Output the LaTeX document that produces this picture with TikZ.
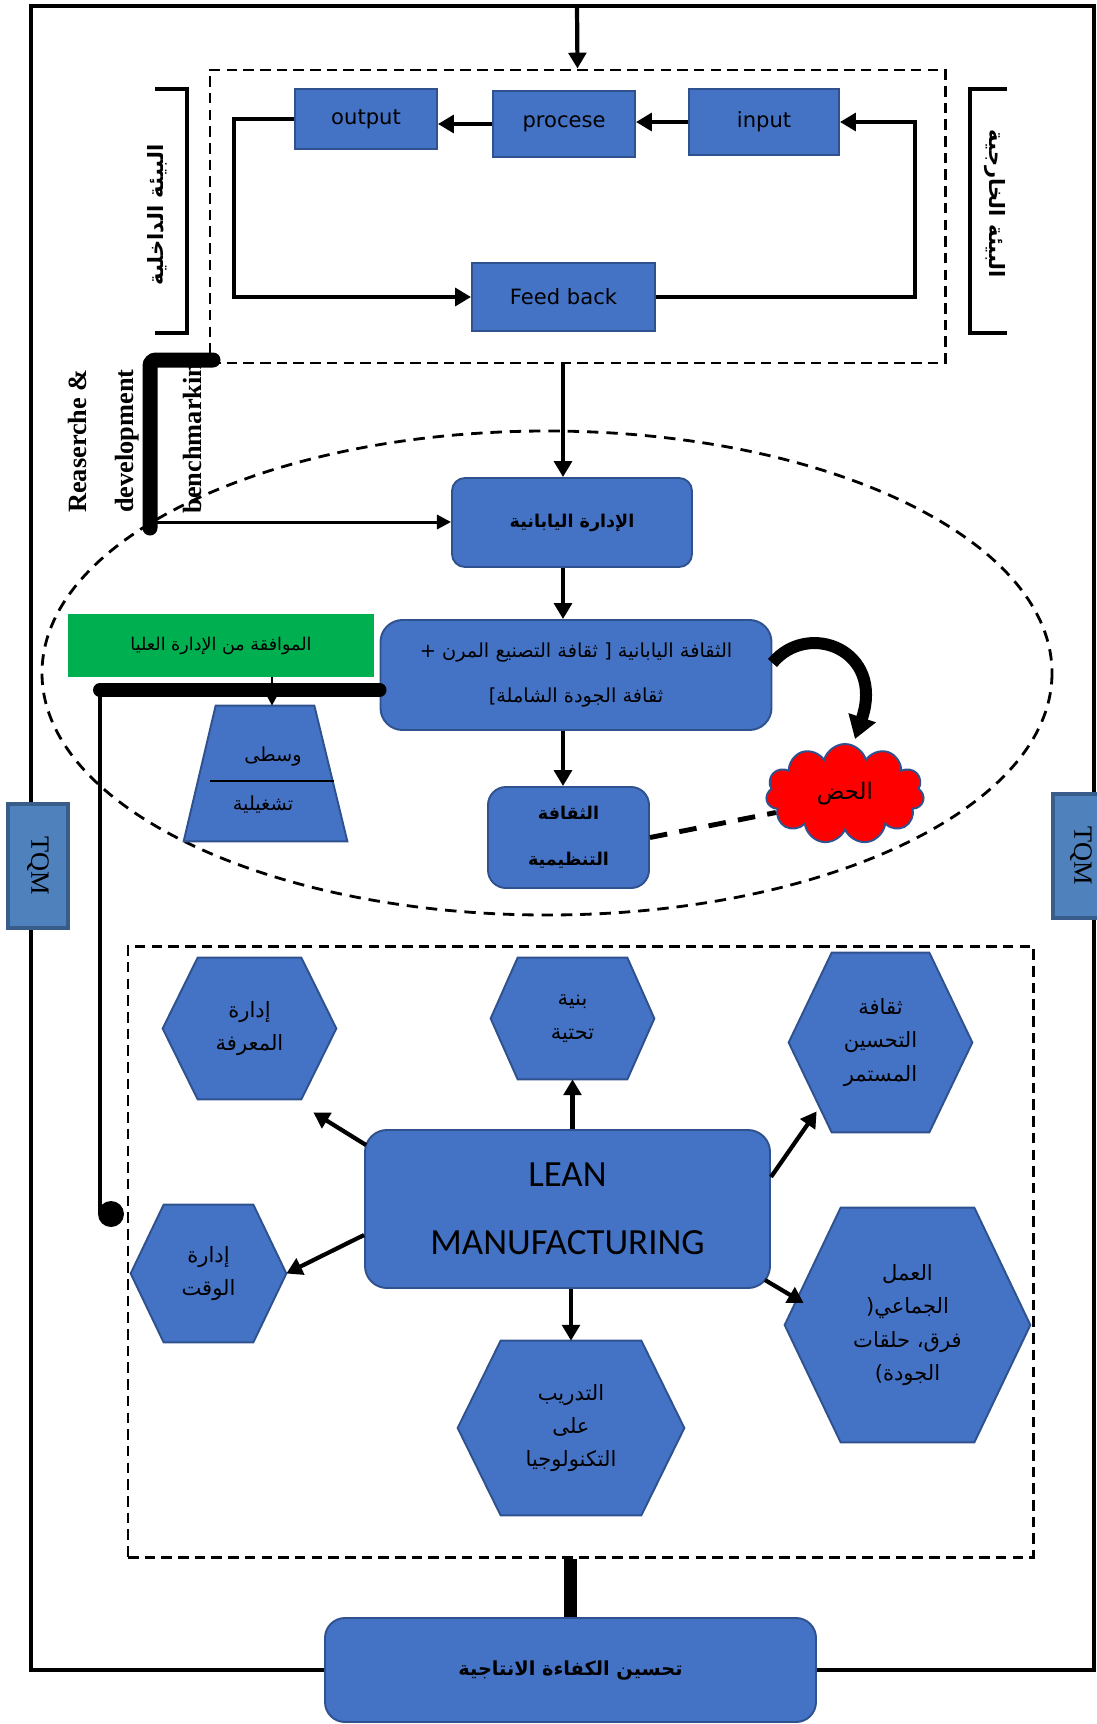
\documentclass[tikz,border=0pt]{standalone}
\usepackage{fontspec}
\usetikzlibrary{arrows.meta,positioning,calc,shapes.geometric,shapes.symbols}
\TeXXeTstate=1
\newfontfamily\arabicfont[Script=Arabic]{DejaVu Sans}
\newfontfamily\dejavu{DejaVu Sans}
\newfontfamily\carlito{Carlito}
\newfontfamily\serifb{Liberation Serif}
\definecolor{office}{HTML}{4472C4}
\definecolor{edge}{HTML}{2F528F}
\definecolor{tqmblue}{HTML}{4F81BD}
\definecolor{tqmedge}{HTML}{385D8A}
\definecolor{approve}{HTML}{00B050}
\newcommand\pxl{0.02cm}
\newcommand\ar[1]{{\arabicfont\beginR#1\endR}}
\tikzset{
 sz/.style 2 args={minimum width=#1*\pxl,minimum height=#2*\pxl},
 blk/.style={draw=edge,fill=office,line width=1.1pt,inner sep=0pt},
 rblk/.style={blk,rounded corners=#1},
 tqm/.style={draw=tqmedge,fill=tqmblue,line width=2pt,inner sep=0pt},
 dbox/.style={draw,line width=1.7pt,dash pattern=on 6pt off 3.5pt,inner sep=0pt},
 edash/.style={line width=1.6pt,dash pattern=on 6.5pt off 4.5pt},
 frame/.style={line width=2.2pt},
 heavy/.style={line width=0.28cm,line cap=round},
 arr/.style={line width=2.4pt,-{Triangle[length=9pt,width=10pt]}},
 thinarr/.style={line width=1.7pt,-{Triangle[length=8pt,width=8pt]}},
 en/.style={font=\dejavu\fontsize{12}{14}\selectfont},
 art/.style 2 args={align=center,font=\arabicfont\fontsize{#1}{#2}\selectfont},
 artb/.style 2 args={align=center,font=\arabicfont\bfseries\fontsize{#1}{#2}\selectfont},
 hexf/.style={fill=office,draw=edge,line width=1.1pt},
 rdtxt/.style={font=\serifb\bfseries\fontsize{15}{17}\selectfont,rotate=90},
 tqmtxt/.style={font=\serifb\fontsize{15}{17}\selectfont,rotate=-90}
}
% hexagon: name, x, y, width, height, inset, text
\newcommand\hexa[7]{%
 \node[sz={#4}{#5},inner sep=0pt] (#1) at (#2,#3) {};
 \filldraw[hexf] (#1.west) -- ([shift={(#6,0)}]#1.north west) -- ([shift={(-#6,0)}]#1.north east)
  -- (#1.east) -- ([shift={(-#6,0)}]#1.south east) -- ([shift={(#6,0)}]#1.south west) -- cycle;
 \node[art={12}{19}] at (#1) {#7};}

\begin{document}
\begin{tikzpicture}[x=0.02cm,y=-0.02cm]
\useasboundingbox (0,0) rectangle (1097,1724);
\clip (0,0) rectangle (1097,1724);
% outer frame
\coordinate (tl) at (31,6);
\coordinate (tr) at (1094,6);
\coordinate (ftop) at (577,6);
\node[rblk=0.4cm,sz={491}{104},artb={11}{13}] (bot) at (570.5,1670) {\ar{تحسين الكفاءة الانتاجية}};
\draw[frame] (bot.west) -| (tl) -- (tr) |- (bot.east);
\node[tqm,sz={60}{124}] (tqml) at (38,866) {};
\node[tqm,sz={82}{124}] (tqmr) at (1094,856) {};
\node[tqmtxt] at (tqml) {TQM};
\node[tqmtxt] at (1081,856) {TQM};

% system loop
\node[dbox,sz={735}{293}] (env) at (577.5,216.5) {};
\node[blk,sz={142}{60},en] (out) at (366,119) {output};
\node[blk,sz={142}{66},en] (proc) at (564,124) {procese};
\node[blk,sz={150}{66},en] (inp) at (764,122) {input};
\node[blk,sz={183}{68},en] (fb) at (563.5,297) {Feed back};
\draw[arr] (ftop) -- (env.north);
\draw[arr] (inp.west) -- (inp.west -| proc.east);
\draw[arr] (proc.west) -- (proc.west -| out.east);
\draw[arr] (out.west) -- ++(-60,0) |- (fb.west);
\draw[arr] (fb.east) -- ++(259,0) |- (inp.east);
\draw[frame] (155,89) -- (187,89) -- (187,333) -- (155,333);
\draw[frame] (1007,89) -- (970,89) -- (970,333) -- (1007,333);
\node[artb={12}{14},rotate=90] (inenv) at (157,215) {\ar{البيئة الداخلية}};
\node[artb={12}{14},rotate=-90] (exenv) at (995,204) {\ar{البيئة الخارجية}};

% research and development
\node[rdtxt] (rd1) at (77,441) {Reaserche \&};
\node[rdtxt] (rd2) at (127,441) {development};
\node[rdtxt] (rd3) at (192,438) {benchmarkin};
\draw[line width=0.3cm,line cap=round,rounded corners=0.12cm] (213,360) -- (150,360) -- (150,528);

% japanese management
\draw[edash] (547,673) ellipse [x radius=505,y radius=242];
\coordinate (axis) at (563,0);
\coordinate (rdin) at (150,522);
\node[rblk=0.26cm,sz={240}{89},artb={10}{12}] (jap) at (572,522.5) {\ar{الإدارة اليابانية}};
\node[rblk=0.44cm,sz={391}{110},art={11}{25.5}] (cult) at (576,675)
 {{\arabicfont\beginR الثقافة اليابانية [ ثقافة التصنيع المرن +\endR}\\{\arabicfont\beginR ثقافة الجودة الشاملة]\endR}};
\node[rblk=0.36cm,sz={161}{101},artb={10}{26}] (org) at (568.5,837.5) {\ar{الثقافة}\\\ar{التنظيمية}};
\node[cloud,cloud puffs=11,draw=edge,fill=red,line width=1.1pt,sz={158}{100},inner sep=0pt,art={13}{15}] (spur) at (845,794) {\ar{الحض}};
\draw[thinarr] (rdin) -- (rdin -| jap.west);
\draw[arr] (axis |- env.south) -- (axis |- jap.north);
\draw[arr] (axis |- jap.south) -- (axis |- cult.north);
\draw[arr] (axis |- cult.south) -- (axis |- org.north);
\draw[line width=0.24cm,-{Triangle[length=0.45cm,width=0.55cm]}] ([shift={(0,-12)}]cult.east)
 .. controls (808,620) and (885,650) .. ([shift={(10,-4)}]spur.north);
\draw[line width=2.8pt,dash pattern=on 10pt off 7pt] (org.east) -- (spur.195);

% top management approval
\node[fill=approve,sz={306}{63},art={10}{12}] (appr) at (221,645.5) {\ar{الموافقة من الإدارة العليا}};
\node[sz={163}{135},inner sep=0pt] (trap) at (265.5,773.5) {};
\filldraw[hexf] (trap.south west) -- ([shift={(32,0)}]trap.north west) -- ([shift={(-33,0)}]trap.north east)
 -- (trap.south east) -- cycle;
\draw[line width=1.2pt] (210,781) -- (334,781);
\node[art={11}{13}] (midlvl) at (273,757) {\ar{وسطى}};
\node[art={11}{13}] (opslvl) at (263,805) {\ar{تشغيلية}};
\coordinate (jn) at (100,690);
\coordinate (tx) at (272,0);
\node[circle,fill=black,inner sep=0pt,minimum size=26*\pxl] (dot) at (111,1214) {};
\draw[heavy] (cult.west |- jn) -- (jn);
\draw[frame] (jn) -- (jn |- dot);
\draw[thinarr] (tx |- appr.south) -- (tx |- trap.north);

% lean manufacturing
\node[dbox,sz={905}{611}] (low) at (580.5,1251.5) {};
\hexa{know}{249.5}{1028.5}{173}{141}{35}{\ar{إدارة}\\\ar{المعرفة}}
\hexa{infra}{572.5}{1018.5}{163}{121}{27}{\ar{بنية}\\\ar{تحتية}}
\hexa{kaiz}{880.5}{1042.5}{183}{179}{43}{\ar{ثقافة}\\\ar{التحسين}\\\ar{المستمر}}
\hexa{team}{907.5}{1325}{245}{234}{56}{\ar{العمل}\\\ar{الجماعي(}\\\ar{فرق، حلقات}\\\ar{الجودة)}}
\hexa{time}{208.5}{1273.5}{155}{137}{33}{\ar{إدارة}\\\ar{الوقت}}
\hexa{train}{571}{1428}{226}{174}{43}{\ar{التدريب}\\\ar{على}\\\ar{التكنولوجيا}}
\node[rblk=0.44cm,sz={405}{158},align=center,font=\carlito\fontsize{21}{38.6}\selectfont] (lean) at (567.5,1209) {LEAN\\MANUFACTURING};
\draw[arr] ([shift={(2,16)}]lean.north west) -- ([shift={(-23,13)}]know.south east);
\draw[arr] (infra.south |- lean.north) -- (infra.south);
\draw[arr] ([shift={(0,-32)}]lean.east) -- ([shift={(28,-21)}]kaiz.south west);
\draw[arr] ([shift={(-6,-9)}]lean.south east) -- ([shift={(19,-22)}]team.west);
\draw[arr] ([shift={(0,26)}]lean.west) -- (time.east);
\draw[arr] (train.north |- lean.south) -- (train.north);
\draw[line width=0.26cm] (bot.north) -- (bot.north |- low.south);
\end{tikzpicture}
\end{document}
